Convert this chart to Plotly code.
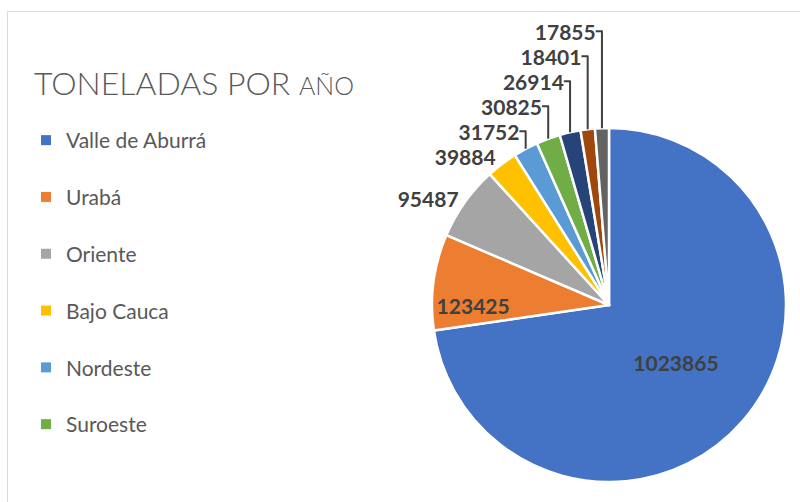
import plotly.graph_objects as go

labels = ["Valle de Aburrá", "Urabá", "Oriente", "Bajo Cauca", "Nordeste",
          "Suroeste", "Norte", "Occidente", "Magdalena Medio"]
values = [1023865, 123425, 95487, 39884, 31752, 30825, 26914, 18401, 17855]
colors = ["#4472C4", "#ED7D31", "#A5A5A5", "#FFC000", "#5B9BD5",
          "#70AD47", "#264478", "#9E480E", "#636363"]
legend_shown = 6

W, H = 800, 502
cx, cy, r = 609, 305, 177  # pixel layout of the pie

fig = go.Figure()
fig.add_trace(go.Pie(
    labels=labels, values=values, sort=False, direction="clockwise", rotation=0,
    marker=dict(colors=colors, line=dict(color="white", width=2.5)),
    texttemplate="%{value:d}",
    textposition=["inside", "inside"] + ["outside"] * 7,
    insidetextorientation="horizontal",
    textfont=dict(family="Lato", size=21, color="#404040", weight="bold"),
    domain=dict(x=[(cx - r) / W, (cx + r) / W], y=[(H - cy - r) / H, (H - cy + r) / H]),
    showlegend=False, hoverinfo="label+value",
))

for i in range(legend_shown):
    fig.add_trace(go.Scatter(
        x=[None], y=[None], mode="markers", name=labels[i],
        marker=dict(symbol="square", size=10, color=colors[i]),
        legendgroup=labels[i], showlegend=True,
    ))

fig.update_layout(
    width=W, height=H, margin=dict(l=0, r=0, t=0, b=0),
    paper_bgcolor="white", plot_bgcolor="white",
    xaxis=dict(visible=False), yaxis=dict(visible=False),
    title=dict(
        text="TONELADAS POR <span style='font-size:25px'>AÑO</span>",
        font=dict(family="Lato", size=32, color="#595959", weight=300),
        x=34 / W, xanchor="left", xref="container",
        y=1 - 84 / H, yanchor="middle", yref="container",
    ),
    legend=dict(
        x=26 / W, y=1 - 120 / H, xanchor="left", yanchor="top",
        font=dict(family="Lato", size=21, color="#595959"),
        tracegroupgap=26.5, traceorder="grouped", bgcolor="rgba(0,0,0,0)",
    ),
    shapes=[dict(type="rect", xref="paper", yref="paper",
                 x0=7.5 / W, x1=1.02, y0=-0.05, y1=1 - 11.5 / H,
                 line=dict(color="#D9D9D9", width=1))],
)

fig.write_html("out.html", config={"displayModeBar": False},
               post_script="document.body.style.margin='0';")
